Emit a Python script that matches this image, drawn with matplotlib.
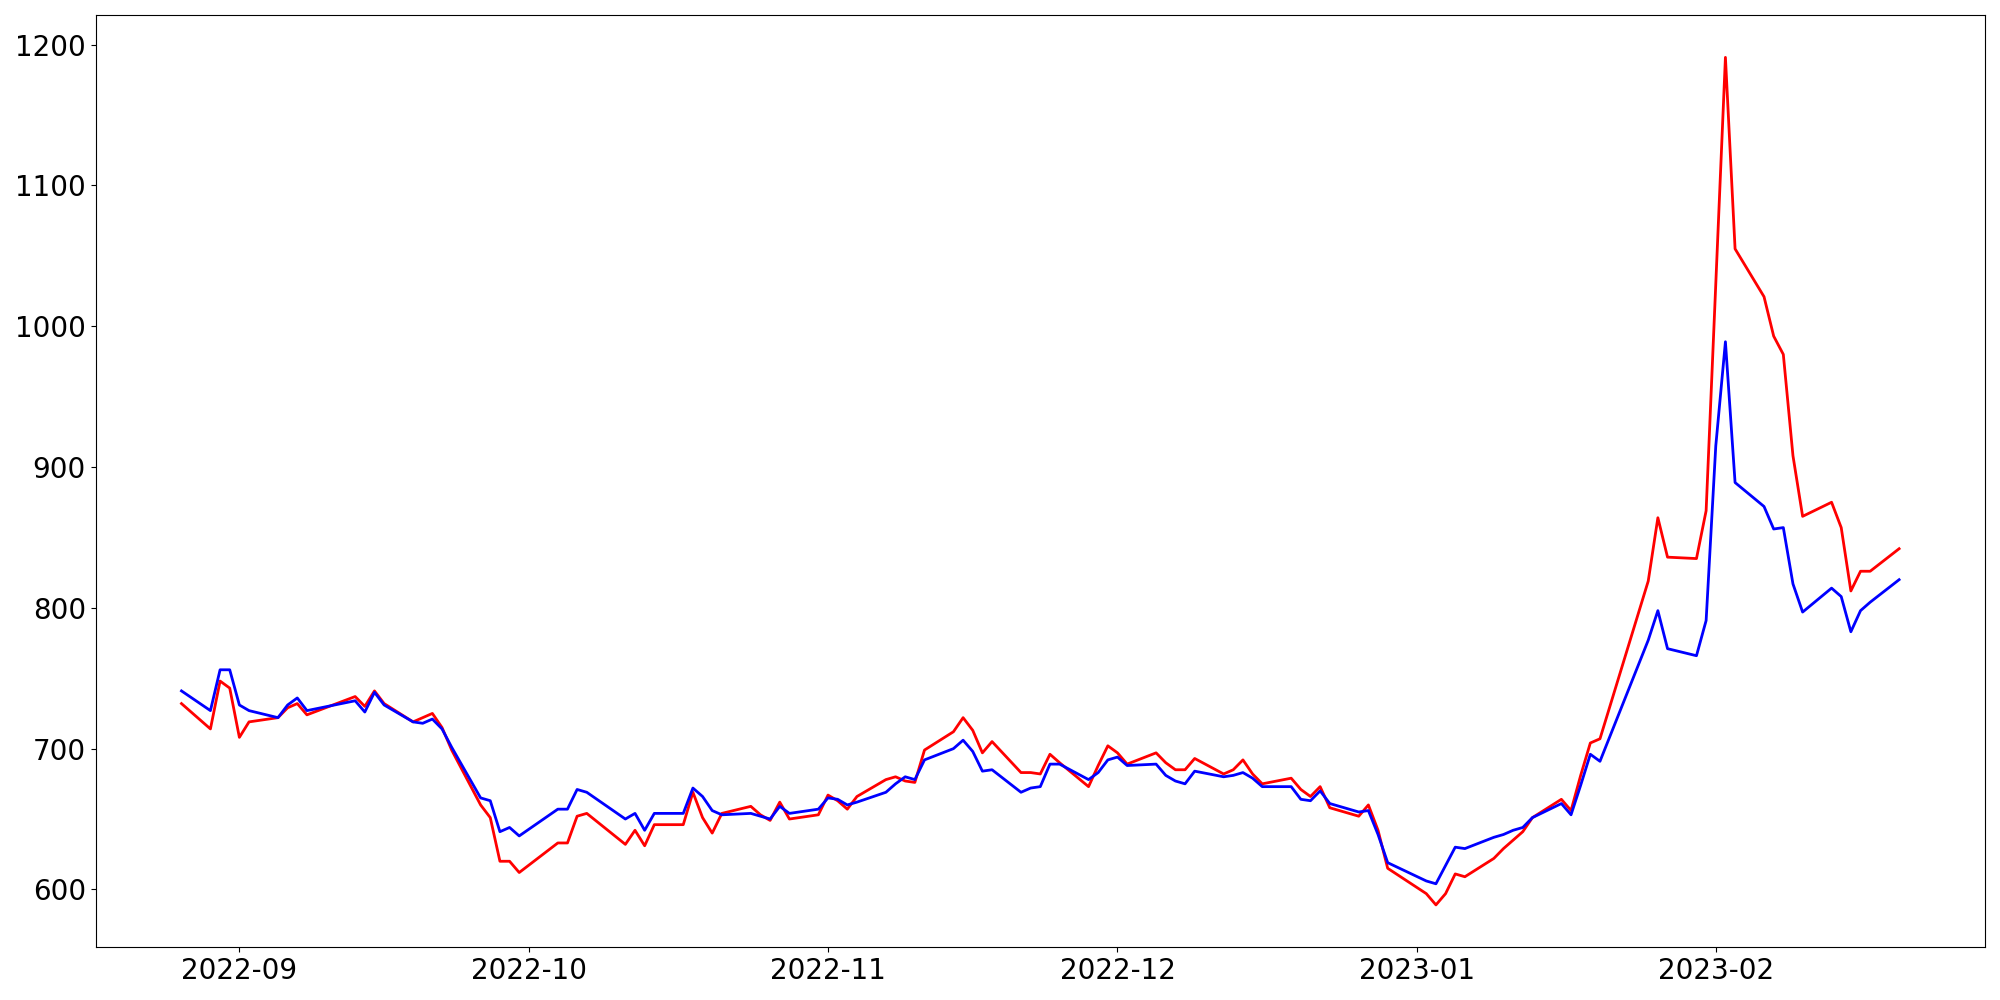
import pandas as pd
import matplotlib
matplotlib.use("Agg")
import matplotlib.pyplot as plt

# trading days (weekends and market holidays missing)
dates = [
    "2022-08-26", "2022-08-29", "2022-08-30", "2022-08-31", "2022-09-01", "2022-09-02",
    "2022-09-05", "2022-09-06", "2022-09-07", "2022-09-08", "2022-09-13", "2022-09-14",
    "2022-09-15", "2022-09-16", "2022-09-19", "2022-09-20", "2022-09-21", "2022-09-22",
    "2022-09-23", "2022-09-26", "2022-09-27", "2022-09-28", "2022-09-29", "2022-09-30",
    "2022-10-04", "2022-10-05", "2022-10-06", "2022-10-07", "2022-10-11", "2022-10-12",
    "2022-10-13", "2022-10-14", "2022-10-17", "2022-10-18", "2022-10-19", "2022-10-20",
    "2022-10-21", "2022-10-24", "2022-10-25", "2022-10-26", "2022-10-27", "2022-10-28",
    "2022-10-31", "2022-11-01", "2022-11-02", "2022-11-03", "2022-11-04", "2022-11-07",
    "2022-11-08", "2022-11-09", "2022-11-10", "2022-11-11", "2022-11-14", "2022-11-15",
    "2022-11-16", "2022-11-17", "2022-11-18", "2022-11-21", "2022-11-22", "2022-11-23",
    "2022-11-24", "2022-11-25", "2022-11-28", "2022-11-29", "2022-11-30", "2022-12-01",
    "2022-12-02", "2022-12-05", "2022-12-06", "2022-12-07", "2022-12-08", "2022-12-09",
    "2022-12-12", "2022-12-13", "2022-12-14", "2022-12-15", "2022-12-16", "2022-12-19",
    "2022-12-20", "2022-12-21", "2022-12-22", "2022-12-23", "2022-12-26", "2022-12-27",
    "2022-12-28", "2022-12-29", "2023-01-02", "2023-01-03", "2023-01-04", "2023-01-05",
    "2023-01-06", "2023-01-09", "2023-01-10", "2023-01-11", "2023-01-12", "2023-01-13",
    "2023-01-16", "2023-01-17", "2023-01-18", "2023-01-19", "2023-01-20", "2023-01-25",
    "2023-01-26", "2023-01-27", "2023-01-30", "2023-01-31", "2023-02-01", "2023-02-02",
    "2023-02-03", "2023-02-06", "2023-02-07", "2023-02-08", "2023-02-09", "2023-02-10",
    "2023-02-13", "2023-02-14", "2023-02-15", "2023-02-16", "2023-02-17", "2023-02-20",
]

red_vals = [
    732, 714, 748, 743, 708, 719,
    722, 729, 732, 724, 737, 730,
    741, 732, 719, 722, 725, 715,
    699, 660, 651, 620, 620, 612,
    633, 633, 652, 654, 632, 642,
    631, 646, 646, 669, 651, 640,
    654, 659, 653, 649, 662, 650,
    653, 667, 663, 657, 666, 678,
    680, 677, 676, 699, 712, 722,
    713, 697, 705, 683, 683, 682,
    696, 690, 673, 688, 702, 697,
    689, 697, 690, 685, 685, 693,
    682, 685, 692, 682, 675, 679,
    671, 666, 673, 658, 652, 660,
    642, 615, 597, 589, 597, 611,
    609, 622, 629, 635, 641, 651,
    664, 656, 681, 704, 707, 819,
    864, 836, 835, 869, 1030, 1191,
    1055, 1021, 993, 980, 908, 865,
    875, 857, 812, 826, 826, 842,
]

blue_vals = [
    741, 727, 756, 756, 731, 727,
    722, 731, 736, 727, 734, 726,
    740, 731, 719, 718, 721, 714,
    701, 665, 663, 641, 644, 638,
    657, 657, 671, 669, 650, 654,
    642, 654, 654, 672, 666, 656,
    653, 654, 652, 650, 659, 654,
    657, 665, 664, 660, 662, 669,
    675, 680, 678, 692, 700, 706,
    698, 684, 685, 669, 672, 673,
    689, 689, 678, 683, 692, 694,
    688, 689, 681, 677, 675, 684,
    680, 681, 683, 679, 673, 673,
    664, 663, 670, 661, 655, 656,
    639, 619, 606, 604, 617, 630,
    629, 637, 639, 642, 644, 651,
    661, 653, 674, 696, 691, 777,
    798, 771, 766, 791, 915, 989,
    889, 872, 856, 857, 817, 797,
    814, 808, 783, 798, 804, 820,
]

x = pd.to_datetime(dates)

fig, ax = plt.subplots(figsize=(20, 10), dpi=100)
ax.plot(x, red_vals, color='red', linewidth=2)
ax.plot(x, blue_vals, color='blue', linewidth=2)

ax.tick_params(axis='both', labelsize=20)

plt.tight_layout()
plt.savefig('out.png')
